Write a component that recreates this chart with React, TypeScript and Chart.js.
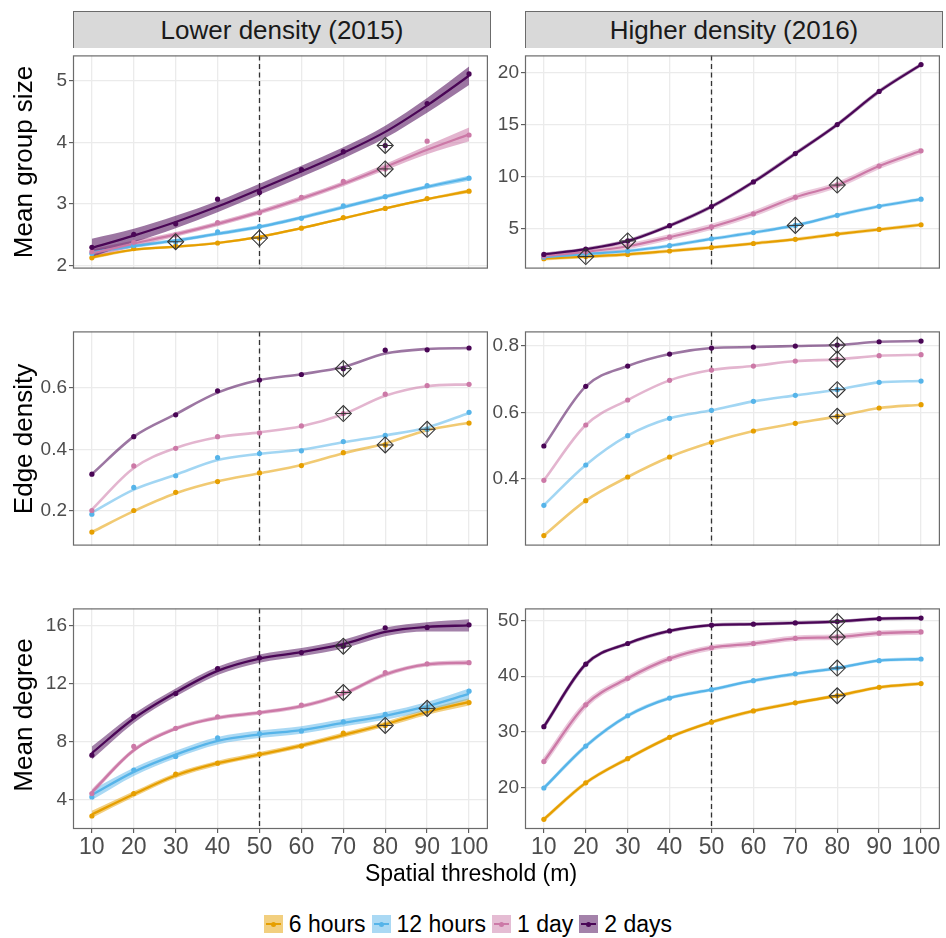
import React, { useEffect, useRef } from "react";
import { Chart, registerables } from "chart.js";
Chart.register(...registerables);

// ---------- categories / labels ----------
const THRESHOLDS = [10, 20, 30, 40, 50, 60, 70, 80, 90, 100];
const X_TICKS = [10, 20, 30, 40, 50, 60, 70, 80, 90, 100];
const CUTOFF = 50;
const SERIES_NAMES = ["6 hours", "12 hours", "1 day", "2 days"];
const SERIES_COLORS = ["#E69F00", "#56B4E9", "#CC79A7", "#4A0656"];
const FACET_TITLES = ["Lower density (2015)", "Higher density (2016)"];
const METRIC_TITLES = ["Mean group size", "Edge density", "Mean degree"];
const X_TITLE = "Spatial threshold (m)";

// ---------- Mean group size, lower density (2015) ----------
const gsLow6h = [2.13, 2.28, 2.32, 2.37, 2.45, 2.61, 2.78, 2.93, 3.09, 3.21];
const gsLow6hFit = [2.14, 2.26, 2.31, 2.37, 2.47, 2.61, 2.77, 2.93, 3.08, 3.21];
const gsLow6hLo = [2.11, 2.24, 2.29, 2.35, 2.45, 2.59, 2.75, 2.91, 3.06, 3.18];
const gsLow6hHi = [2.17, 2.28, 2.33, 2.39, 2.49, 2.63, 2.79, 2.95, 3.1, 3.24];
const gsLow12h = [2.2, 2.33, 2.39, 2.55, 2.64, 2.77, 2.97, 3.12, 3.3, 3.42];
const gsLow12hFit = [2.22, 2.32, 2.41, 2.52, 2.63, 2.78, 2.95, 3.12, 3.28, 3.42];
const gsLow12hLo = [2.18, 2.29, 2.38, 2.49, 2.6, 2.75, 2.92, 3.09, 3.25, 3.38];
const gsLow12hHi = [2.26, 2.35, 2.44, 2.55, 2.66, 2.81, 2.98, 3.15, 3.31, 3.46];
const gsLow1d = [2.23, 2.38, 2.5, 2.7, 2.86, 3.11, 3.37, 3.57, 4.02, 4.12];
const gsLow1dFit = [2.2, 2.36, 2.51, 2.68, 2.87, 3.09, 3.33, 3.6, 3.88, 4.13];
const gsLow1dLo = [2.13, 2.31, 2.47, 2.64, 2.83, 3.05, 3.29, 3.55, 3.81, 4.02];
const gsLow1dHi = [2.27, 2.41, 2.55, 2.72, 2.91, 3.13, 3.37, 3.65, 3.95, 4.24];
const gsLow2d = [2.3, 2.51, 2.68, 3.08, 3.19, 3.56, 3.85, 3.95, 4.63, 5.11];
const gsLow2dFit = [2.29, 2.49, 2.71, 2.96, 3.24, 3.53, 3.83, 4.17, 4.6, 5.08];
const gsLow2dLo = [2.14, 2.38, 2.61, 2.87, 3.15, 3.44, 3.74, 4.07, 4.48, 4.93];
const gsLow2dHi = [2.44, 2.6, 2.81, 3.05, 3.33, 3.62, 3.92, 4.27, 4.72, 5.23];
const gsLowMarks = [50, 30, 80, 80];
const gsLowTicks = [2, 3, 4, 5];

// ---------- Mean group size, higher density (2016) ----------
const gsHigh6h = [2.08, 2.29, 2.5, 2.83, 3.16, 3.55, 3.95, 4.46, 4.91, 5.36];
const gsHigh12h = [2.23, 2.53, 2.83, 3.34, 4.0, 4.61, 5.3, 6.27, 7.14, 7.83];
const gsHigh1d = [2.35, 2.74, 3.28, 4.16, 5.15, 6.42, 8.01, 9.19, 11.02, 12.5];
const gsHigh2d = [2.5, 3.01, 3.8, 5.27, 7.11, 9.49, 12.23, 15.03, 18.22, 20.81];
const gsHighMarks = [20, 70, 80, 30];
const gsHighTicks = [5, 10, 15, 20];

// ---------- Edge density, lower density (2015) ----------
const edLow6h = [0.132, 0.202, 0.261, 0.296, 0.324, 0.348, 0.39, 0.415, 0.466, 0.486];
const edLow6hFit = [0.132, 0.2, 0.258, 0.297, 0.323, 0.35, 0.388, 0.42, 0.463, 0.487];
const edLow12h = [0.19, 0.277, 0.315, 0.374, 0.387, 0.396, 0.426, 0.446, 0.466, 0.521];
const edLow12hFit = [0.195, 0.27, 0.318, 0.366, 0.386, 0.4, 0.424, 0.446, 0.472, 0.519];
const edLow1d = [0.202, 0.347, 0.404, 0.442, 0.454, 0.477, 0.517, 0.58, 0.608, 0.612];
const edLow1dFit = [0.205, 0.34, 0.405, 0.44, 0.456, 0.476, 0.515, 0.575, 0.606, 0.612];
const edLow2d = [0.32, 0.442, 0.513, 0.591, 0.626, 0.644, 0.663, 0.723, 0.724, 0.73];
const edLow2dFit = [0.32, 0.442, 0.515, 0.585, 0.626, 0.645, 0.668, 0.712, 0.727, 0.73];
const edLowMarks = [80, 90, 70, 70];
const edLowTicks = [0.2, 0.4, 0.6];

// ---------- Edge density, higher density (2016) ----------
const edHigh6h = [0.23, 0.335, 0.406, 0.466, 0.51, 0.544, 0.567, 0.588, 0.613, 0.623];
const edHigh12h = [0.321, 0.442, 0.53, 0.582, 0.606, 0.633, 0.651, 0.668, 0.69, 0.694];
const edHigh1d = [0.396, 0.562, 0.637, 0.696, 0.727, 0.739, 0.754, 0.759, 0.77, 0.773];
const edHigh2d = [0.499, 0.678, 0.739, 0.775, 0.793, 0.796, 0.799, 0.802, 0.812, 0.814];
const edHighMarks = [80, 80, 80, 80];
const edHighTicks = [0.4, 0.6, 0.8];

// ---------- Mean degree, lower density (2015) ----------
const mdLow6h = [2.84, 4.4, 5.74, 6.5, 7.13, 7.69, 8.58, 9.12, 10.3, 10.7];
const mdLow6hFit = [2.95, 4.35, 5.65, 6.5, 7.1, 7.72, 8.45, 9.2, 10.05, 10.75];
const mdLow6hLo = [2.7, 4.15, 5.47, 6.33, 6.93, 7.55, 8.28, 9.02, 9.85, 10.5];
const mdLow6hHi = [3.2, 4.55, 5.83, 6.67, 7.27, 7.89, 8.62, 9.38, 10.25, 11.0];
const mdLow12h = [4.16, 6.03, 6.97, 8.25, 8.54, 8.74, 9.36, 9.88, 10.3, 11.49];
const mdLow12hFit = [4.3, 5.9, 7.1, 8.05, 8.5, 8.8, 9.3, 9.78, 10.45, 11.3];
const mdLow12hLo = [3.95, 5.62, 6.84, 7.79, 8.24, 8.54, 9.04, 9.51, 10.15, 10.92];
const mdLow12hHi = [4.65, 6.18, 7.36, 8.31, 8.76, 9.06, 9.56, 10.05, 10.75, 11.68];
const mdLow1d = [4.4, 7.66, 8.92, 9.72, 10.01, 10.52, 11.4, 12.78, 13.39, 13.47];
const mdLow1dFit = [4.5, 7.4, 8.9, 9.65, 10.0, 10.45, 11.3, 12.65, 13.35, 13.47];
const mdLow1dLo = [4.3, 7.25, 8.76, 9.51, 9.86, 10.31, 11.16, 12.5, 13.2, 13.3];
const mdLow1dHi = [4.7, 7.55, 9.04, 9.79, 10.14, 10.59, 11.44, 12.8, 13.5, 13.64];
const mdLow2d = [7.06, 9.74, 11.33, 13.05, 13.81, 14.17, 14.61, 15.89, 15.91, 16.09];
const mdLow2dFit = [7.2, 9.6, 11.4, 12.9, 13.75, 14.2, 14.75, 15.6, 15.95, 16.05];
const mdLow2dLo = [6.75, 9.28, 11.12, 12.62, 13.47, 13.92, 14.45, 15.3, 15.63, 15.63];
const mdLow2dHi = [7.65, 9.92, 11.68, 13.18, 14.03, 14.48, 15.05, 15.9, 16.27, 16.47];
const mdLowMarks = [80, 90, 70, 70];
const mdLowTicks = [4, 8, 12, 16];

// ---------- Mean degree, higher density (2016) ----------
const mdHigh6h = [14.25, 20.81, 25.16, 28.99, 31.72, 33.75, 35.2, 36.48, 37.99, 38.68];
const mdHigh12h = [19.88, 27.42, 32.88, 36.07, 37.58, 39.2, 40.42, 41.47, 42.8, 43.09];
const mdHigh1d = [24.64, 34.85, 39.61, 43.15, 45.12, 45.88, 46.81, 47.04, 47.74, 47.97];
const mdHigh2d = [30.91, 42.16, 45.88, 48.14, 49.19, 49.36, 49.59, 49.83, 50.35, 50.46];
const mdHighMarks = [80, 80, 80, 80];
const mdHighTicks = [20, 30, 40, 50];

// ---------- layout ----------
const FONT = "'Liberation Sans', Arial, Helvetica, sans-serif";
const PANEL_W = 418;
const COL_X = [73, 525];
const ROW_Y = [48, 324, 601];
const ROW_H = [228, 229, 228];
const AXIS_W = 60;
const PAD = 6;
const X_AXIS_H = 38;

type Series = { pts: number[]; fit?: number[]; lo?: number[]; hi?: number[] };
type PanelDef = {
  row: number;
  col: number;
  yMin: number;
  yMax: number;
  yTicks: number[];
  series: Series[];
  marks: number[];
  lineWidth: number;
  lineAlpha: number;
  ribbonAlpha?: number;
  bands?: number[];
};

const PANELS: PanelDef[] = [
  {
    row: 0, col: 0, yMin: 1.955, yMax: 5.41, yTicks: gsLowTicks, marks: gsLowMarks,
    lineWidth: 2.2, lineAlpha: 1, ribbonAlpha: 0.55,
    series: [
      { pts: gsLow6h, fit: gsLow6hFit, lo: gsLow6hLo, hi: gsLow6hHi },
      { pts: gsLow12h, fit: gsLow12hFit, lo: gsLow12hLo, hi: gsLow12hHi },
      { pts: gsLow1d, fit: gsLow1dFit, lo: gsLow1dLo, hi: gsLow1dHi },
      { pts: gsLow2d, fit: gsLow2dFit, lo: gsLow2dLo, hi: gsLow2dHi },
    ],
  },
  {
    row: 0, col: 1, yMin: 1.13, yMax: 21.7, yTicks: gsHighTicks, marks: gsHighMarks,
    lineWidth: 2.1, lineAlpha: 1, bands: [3.5, 3.5, 6, 3.5],
    series: [{ pts: gsHigh6h }, { pts: gsHigh12h }, { pts: gsHigh1d }, { pts: gsHigh2d }],
  },
  {
    row: 1, col: 0, yMin: 0.088, yMax: 0.784, yTicks: edLowTicks, marks: edLowMarks,
    lineWidth: 2.6, lineAlpha: 0.55,
    series: [
      { pts: edLow6h, fit: edLow6hFit },
      { pts: edLow12h, fit: edLow12hFit },
      { pts: edLow1d, fit: edLow1dFit },
      { pts: edLow2d, fit: edLow2dFit },
    ],
  },
  {
    row: 1, col: 1, yMin: 0.2, yMax: 0.843, yTicks: edHighTicks, marks: edHighMarks,
    lineWidth: 2.6, lineAlpha: 0.55,
    series: [{ pts: edHigh6h }, { pts: edHigh12h }, { pts: edHigh1d }, { pts: edHigh2d }],
  },
  {
    row: 2, col: 0, yMin: 1.94, yMax: 17.23, yTicks: mdLowTicks, marks: mdLowMarks,
    lineWidth: 2.3, lineAlpha: 1, ribbonAlpha: 0.5,
    series: [
      { pts: mdLow6h, fit: mdLow6hFit, lo: mdLow6hLo, hi: mdLow6hHi },
      { pts: mdLow12h, fit: mdLow12hFit, lo: mdLow12hLo, hi: mdLow12hHi },
      { pts: mdLow1d, fit: mdLow1dFit, lo: mdLow1dLo, hi: mdLow1dHi },
      { pts: mdLow2d, fit: mdLow2dFit, lo: mdLow2dLo, hi: mdLow2dHi },
    ],
  },
  {
    row: 2, col: 1, yMin: 12.5, yMax: 52.2, yTicks: mdHighTicks, marks: mdHighMarks,
    lineWidth: 2.3, lineAlpha: 1, bands: [3.5, 3.5, 5.5, 3.5],
    series: [{ pts: mdHigh6h }, { pts: mdHigh12h }, { pts: mdHigh1d }, { pts: mdHigh2d }],
  },
];

function rgba(hex: string, a: number) {
  const n = parseInt(hex.slice(1), 16);
  return `rgba(${(n >> 16) & 255},${(n >> 8) & 255},${n & 255},${a})`;
}

const toXY = (vals: number[]) => THRESHOLDS.map((x, i) => ({ x, y: vals[i] }));

const decorPlugin = {
  id: "panelDecor",
  beforeDatasetsDraw(chart: any) {
    const { ctx, chartArea } = chart;
    const px = chart.scales.x.getPixelForValue(CUTOFF);
    ctx.save();
    ctx.strokeStyle = "#333333";
    ctx.lineWidth = 1.3;
    ctx.setLineDash([5, 3.5]);
    ctx.beginPath();
    ctx.moveTo(Math.round(px) + 0.5, chartArea.top);
    ctx.lineTo(Math.round(px) + 0.5, chartArea.bottom);
    ctx.stroke();
    ctx.restore();
  },
  afterDraw(chart: any) {
    const { ctx, chartArea } = chart;
    ctx.save();
    ctx.strokeStyle = "#6b6b6b";
    ctx.lineWidth = 1.2;
    ctx.strokeRect(
      chartArea.left + 0.5,
      chartArea.top + 0.5,
      chartArea.right - chartArea.left - 1,
      chartArea.bottom - chartArea.top - 1
    );
    ctx.restore();
  },
};

function buildDatasets(p: PanelDef) {
  const ds: any[] = [];
  const order = [3, 2, 1, 0];
  const markData = p.series.map((s, k) => ({
    x: p.marks[k],
    y: s.pts[THRESHOLDS.indexOf(p.marks[k])],
  }));
  ds.push({
    data: markData, showLine: false, pointStyle: "cross", pointRadius: 7,
    borderColor: "#333333", pointBorderColor: "#333333", pointBorderWidth: 1,
  });
  ds.push({
    data: markData, showLine: false, pointStyle: "rectRot", pointRadius: 8,
    pointBackgroundColor: "rgba(0,0,0,0)", pointBorderColor: "#333333", pointBorderWidth: 1.1,
  });
  for (const k of order) {
    ds.push({
      data: toXY(p.series[k].pts), showLine: false, pointRadius: 2.6,
      pointBackgroundColor: SERIES_COLORS[k], pointBorderWidth: 0,
    });
  }
  for (const k of order) {
    const s = p.series[k];
    ds.push({
      data: toXY(s.fit || s.pts), borderColor: rgba(SERIES_COLORS[k], p.lineAlpha),
      borderWidth: p.lineWidth, pointRadius: 0, cubicInterpolationMode: "monotone", fill: false,
    });
  }
  if (p.bands) {
    for (const k of order) {
      const s = p.series[k];
      ds.push({
        data: toXY(s.fit || s.pts), borderColor: rgba(SERIES_COLORS[k], 0.4),
        borderWidth: p.bands[k], pointRadius: 0, cubicInterpolationMode: "monotone", fill: false,
      });
    }
  }
  if (p.ribbonAlpha) {
    for (const k of order) {
      const s = p.series[k];
      if (!s.lo || !s.hi) continue;
      ds.push({
        data: toXY(s.hi), borderWidth: 0, borderColor: "rgba(0,0,0,0)", pointRadius: 0,
        cubicInterpolationMode: "monotone", fill: false,
      });
      ds.push({
        data: toXY(s.lo), borderWidth: 0, borderColor: "rgba(0,0,0,0)", pointRadius: 0,
        cubicInterpolationMode: "monotone", fill: "-1",
        backgroundColor: rgba(SERIES_COLORS[k], p.ribbonAlpha),
      });
    }
  }
  return ds;
}

function Panel({ def }: { def: PanelDef }) {
  const ref = useRef<HTMLCanvasElement | null>(null);
  const bottom = def.row === 2;
  const h = ROW_H[def.row];
  const width = AXIS_W + PANEL_W + PAD;
  const height = PAD + h + (bottom ? X_AXIS_H : 0) + PAD;

  useEffect(() => {
    if (!ref.current) return;
    const chart = new Chart(ref.current, {
      type: "line",
      data: { datasets: buildDatasets(def) },
      options: {
        animation: false,
        responsive: false,
        events: [],
        layout: { padding: { left: 0, right: PAD, top: PAD, bottom: PAD } },
        plugins: { legend: { display: false }, tooltip: { enabled: false } },
        scales: {
          x: {
            type: "linear",
            min: 5.5,
            max: 104.5,
            afterBuildTicks: (s: any) => {
              s.ticks = X_TICKS.map((v) => ({ value: v }));
            },
            afterFit: (s: any) => {
              s.height = bottom ? X_AXIS_H : 0;
            },
            border: { display: false },
            grid: {
              color: "#EBEBEB", lineWidth: 1.3, drawTicks: bottom, tickLength: 4,
              tickColor: "#444444", tickWidth: 1,
            },
            ticks: {
              display: bottom, autoSkip: false, maxRotation: 0, minRotation: 0, padding: 1,
              color: "#4D4D4D", font: { family: FONT, size: 23 },
              callback: (v: any) => String(v),
            },
          },
          y: {
            type: "linear",
            min: def.yMin,
            max: def.yMax,
            afterBuildTicks: (s: any) => {
              s.ticks = def.yTicks.map((v) => ({ value: v }));
            },
            afterFit: (s: any) => {
              s.width = AXIS_W;
            },
            border: { display: false },
            grid: {
              color: "#EBEBEB", lineWidth: 1.3, drawTicks: true, tickLength: 4,
              tickColor: "#444444", tickWidth: 1,
            },
            ticks: {
              padding: 2, color: "#4D4D4D", font: { family: FONT, size: 19 },
              callback: (v: any) => String(v),
            },
          },
        },
      } as any,
      plugins: [decorPlugin],
    });
    return () => chart.destroy();
  }, []);

  return (
    <canvas
      ref={ref}
      width={width}
      height={height}
      style={{
        position: "absolute",
        left: COL_X[def.col] - AXIS_W,
        top: ROW_Y[def.row] - PAD,
        width,
        height,
      }}
    />
  );
}

export default function App() {
  return (
    <div
      style={{
        position: "absolute",
        left: 0,
        top: 0,
        width: 946,
        height: 938,
        background: "#ffffff",
        fontFamily: FONT,
        overflow: "hidden",
      }}
    >
      {FACET_TITLES.map((t, c) => (
        <div
          key={t}
          style={{
            position: "absolute",
            left: COL_X[c],
            top: 11,
            width: PANEL_W,
            height: 37,
            boxSizing: "border-box",
            background: "#D9D9D9",
            border: "1.2px solid #6b6b6b",
            borderBottom: "none",
            color: "#1A1A1A",
            fontSize: 26,
            lineHeight: "37px",
            textAlign: "center",
          }}
        >
          {t}
        </div>
      ))}
      {PANELS.map((p, i) => (
        <Panel key={i} def={p} />
      ))}
      {METRIC_TITLES.map((t, r) => (
        <div
          key={t}
          style={{
            position: "absolute",
            left: 23 - 150,
            top: ROW_Y[r] + ROW_H[r] / 2 - 16,
            width: 300,
            height: 32,
            lineHeight: "32px",
            textAlign: "center",
            fontSize: 26,
            color: "#000",
            transform: "rotate(-90deg)",
            whiteSpace: "nowrap",
          }}
        >
          {t}
        </div>
      ))}
      <div
        style={{
          position: "absolute",
          left: 171,
          top: 859,
          width: 600,
          height: 28,
          lineHeight: "28px",
          textAlign: "center",
          fontSize: 23,
          color: "#000",
        }}
      >
        {X_TITLE}
      </div>
      <div
        style={{
          position: "absolute",
          left: 0,
          top: 910,
          width: 942,
          height: 28,
          display: "flex",
          justifyContent: "center",
          alignItems: "center",
        }}
      >
        {SERIES_NAMES.map((name, k) => (
          <div key={name} style={{ display: "flex", alignItems: "center", marginRight: 6 }}>
            <div
              style={{
                position: "relative",
                width: 19,
                height: 18,
                background: rgba(SERIES_COLORS[k], 0.5),
                marginRight: 6,
              }}
            >
              <div
                style={{
                  position: "absolute",
                  left: 2,
                  right: 2,
                  top: 8,
                  height: 2,
                  background: SERIES_COLORS[k],
                }}
              />
              <div
                style={{
                  position: "absolute",
                  left: 7,
                  top: 6.5,
                  width: 5,
                  height: 5,
                  borderRadius: "50%",
                  background: SERIES_COLORS[k],
                }}
              />
            </div>
            <span style={{ fontSize: 23, color: "#000", lineHeight: "28px" }}>{name}</span>
          </div>
        ))}
      </div>
    </div>
  );
}
